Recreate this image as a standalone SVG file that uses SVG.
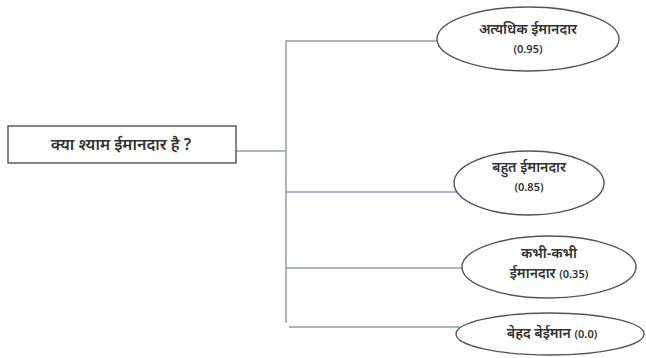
<svg xmlns="http://www.w3.org/2000/svg" width="646" height="358" viewBox="0 0 646 358">
<style>
.bg{fill:#ffffff}
.box{fill:#ffffff;stroke:#444;stroke-width:1.3}
.ell{fill:#ffffff;stroke:#555;stroke-width:1.4}
.con{stroke:#8c9bb0;stroke-width:1.5;fill:none}
.t{font-family:"Noto Sans","Noto Sans Devanagari","DejaVu Sans",sans-serif;font-size:14px;font-weight:600;fill:#333;text-anchor:middle}
.r{font-size:16px}
.s{font-size:11px}
</style>
<rect class="bg" x="0" y="0" width="646" height="358"/>
<g id="connectors">
<line class="con" x1="236" y1="151" x2="286" y2="151"/>
<line class="con" x1="286" y1="40" x2="286" y2="323"/>
<line class="con" x1="286" y1="41" x2="438" y2="41"/>
<line class="con" x1="286" y1="192" x2="457" y2="192"/>
<line class="con" x1="286" y1="268" x2="463" y2="268"/>
<line class="con" x1="289" y1="327" x2="460" y2="327"/>
</g>
<g id="root">
<rect class="box" x="8" y="126" width="228" height="37"/>
<text class="t r" x="121" y="150">क्या श्याम ईमानदार है ?</text>
</g>
<g id="n1">
<ellipse class="ell" cx="528" cy="39" rx="91" ry="32"/>
<text class="t" x="528" y="34">अत्यधिक ईमानदार</text>
<text class="t s" x="528" y="53">(0.95)</text>
</g>
<g id="n2">
<ellipse class="ell" cx="529" cy="183" rx="75" ry="32"/>
<text class="t" x="529" y="172">बहुत ईमानदार</text>
<text class="t s" x="529" y="191">(0.85)</text>
</g>
<g id="n3">
<ellipse class="ell" cx="549" cy="267" rx="87" ry="31"/>
<text class="t" x="549" y="258">कभी-कभी</text>
<text class="t" x="549" y="278">ईमानदार <tspan class="s">(0.35)</tspan></text>
</g>
<g id="n4">
<ellipse class="ell" cx="550" cy="334" rx="94" ry="21"/>
<text class="t" x="552" y="338">बेहद बेईमान <tspan class="s">(0.0)</tspan></text>
</g>
</svg>
